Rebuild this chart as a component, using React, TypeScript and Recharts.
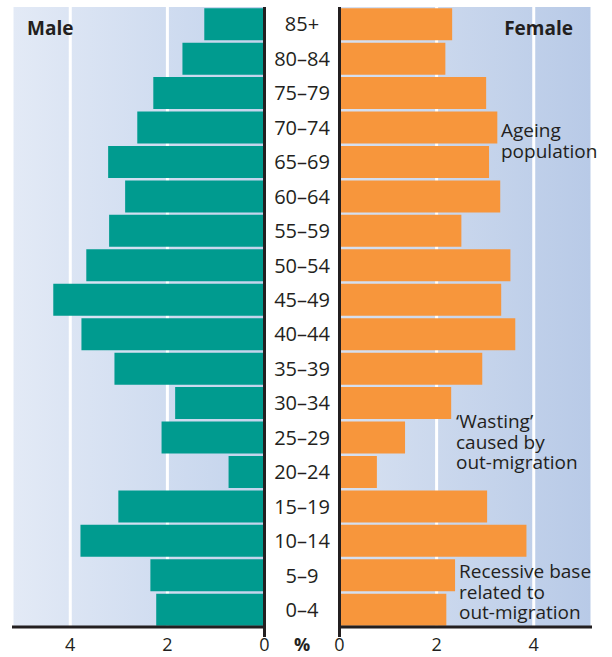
import React from 'react';
import { BarChart, Bar, XAxis, YAxis, CartesianGrid } from 'recharts';

const ageGroups = [
  '85+', '80–84', '75–79', '70–74', '65–69', '60–64', '55–59', '50–54', '45–49',
  '40–44', '35–39', '30–34', '25–29', '20–24', '15–19', '10–14', '5–9', '0–4',
];
const maleValues = [
  1.24, 1.69, 2.29, 2.62, 3.22, 2.87, 3.2, 3.67, 4.35,
  3.77, 3.09, 1.84, 2.12, 0.74, 3.01, 3.79, 2.35, 2.23,
];
const femaleValues = [
  2.32, 2.18, 3.02, 3.25, 3.08, 3.31, 2.51, 3.52, 3.33,
  3.62, 2.94, 2.3, 1.35, 0.77, 3.04, 3.85, 2.38, 2.2,
];
const xTicks = [0, 2, 4];
const xDomain = [0, 5.2];

const ink = '#231f20';
const font = '"Open Sans", sans-serif';

const maleData = ageGroups.map((age, i) => ({ age, male: maleValues[i] }));
const femaleData = ageGroups.map((age, i) => ({ age, female: femaleValues[i] }));

// tick for the % axes, the 0 tick gets a short stub below the axis line
const PercentTick = ({ x, y, payload }: any) => (
  <g>
    {payload.value === 0 && (
      <line x1={x} x2={x} y1={y - 12} y2={y - 2} stroke={ink} strokeWidth={3} />
    )}
    <text x={x} y={y + 12} textAnchor="middle" fill={ink} fontSize={18} fontFamily={font}>
      {payload.value}
    </text>
  </g>
);

// age labels sit in the gap between the two panels
const AgeTick = ({ x, y, payload }: any) => (
  <text x={x + 37.5} y={y} dy="0.36em" textAnchor="middle" fill={ink} fontSize={20} fontFamily={font}>
    {payload.value}
  </text>
);

const Note = ({ x, y, lines }: { x: number; y: number; lines: string[] }) => (
  <g>
    {lines.map((l, i) => (
      <text key={i} x={x} y={y + i * 20.7} fill={ink} fontSize={19} fontFamily={font}>
        {l}
      </text>
    ))}
  </g>
);

export default function App() {
  return (
    <div style={{ position: 'absolute', left: 0, top: 0, width: 612, height: 657, background: '#fff', fontFamily: font }}>
      <svg width={0} height={0} style={{ position: 'absolute' }}>
        <defs>
          <linearGradient id="maleBg" x1="0" y1="0" x2="1" y2="0">
            <stop offset="0%" stopColor="#e3eaf6" />
            <stop offset="100%" stopColor="#c3d3ec" />
          </linearGradient>
          <linearGradient id="femaleBg" x1="0" y1="0" x2="1" y2="0">
            <stop offset="0%" stopColor="#d7e1f1" />
            <stop offset="100%" stopColor="#b8cae7" />
          </linearGradient>
        </defs>
      </svg>

      <div style={{ position: 'absolute', left: 0, top: 0 }}>
        <BarChart
          layout="vertical"
          width={340}
          height={657}
          data={maleData}
          margin={{ top: 7, right: 0, bottom: 0, left: 12 }}
          barCategoryGap={1.2}
        >
          <CartesianGrid horizontal={false} stroke="#fff" strokeWidth={3} fill="url(#maleBg)" fillOpacity={1} />
          <XAxis
            type="number"
            domain={xDomain}
            ticks={xTicks}
            reversed
            allowDataOverflow
            height={30}
            axisLine={{ stroke: ink, strokeWidth: 3 }}
            tickLine={false}
            tickSize={10}
            tickMargin={2}
            tick={<PercentTick />}
          />
          <YAxis
            type="category"
            dataKey="age"
            orientation="right"
            width={75.5}
            axisLine={{ stroke: ink, strokeWidth: 3 }}
            tickLine={false}
            tickSize={0}
            tickMargin={0}
            interval={0}
            tick={<AgeTick />}
          />
          <Bar dataKey="male" fill="#009b8f" isAnimationActive={false} />
        </BarChart>
      </div>

      <div style={{ position: 'absolute', left: 330, top: 0 }}>
        <BarChart
          layout="vertical"
          width={282}
          height={657}
          data={femaleData}
          margin={{ top: 7, right: 20, bottom: 0, left: 0 }}
          barCategoryGap={1.2}
        >
          <CartesianGrid horizontal={false} stroke="#fff" strokeWidth={3} fill="url(#femaleBg)" fillOpacity={1} />
          <XAxis
            type="number"
            domain={xDomain}
            ticks={xTicks}
            allowDataOverflow
            height={30}
            axisLine={{ stroke: ink, strokeWidth: 3 }}
            tickLine={false}
            tickSize={10}
            tickMargin={2}
            tick={<PercentTick />}
          />
          <YAxis
            type="category"
            dataKey="age"
            width={9.5}
            axisLine={{ stroke: ink, strokeWidth: 3 }}
            tickLine={false}
            tick={false}
          />
          <Bar dataKey="female" fill="#f7963c" isAnimationActive={false} />
        </BarChart>
      </div>

      <svg width={612} height={657} style={{ position: 'absolute', left: 0, top: 0, pointerEvents: 'none' }}>
        <text x={27} y={35} fill={ink} fontSize={19} fontWeight={700} fontFamily={font}>Male</text>
        <text x={573} y={35} textAnchor="end" fill={ink} fontSize={19} fontWeight={700} fontFamily={font}>Female</text>
        <text x={302} y={651} textAnchor="middle" fill={ink} fontSize={18} fontWeight={700} fontFamily={font}>%</text>
        <Note x={501} y={137} lines={['Ageing', 'population']} />
        <Note x={456} y={428} lines={['‘Wasting’', 'caused by', 'out-migration']} />
        <Note x={459} y={578} lines={['Recessive base', 'related to', 'out-migration']} />
      </svg>
    </div>
  );
}
